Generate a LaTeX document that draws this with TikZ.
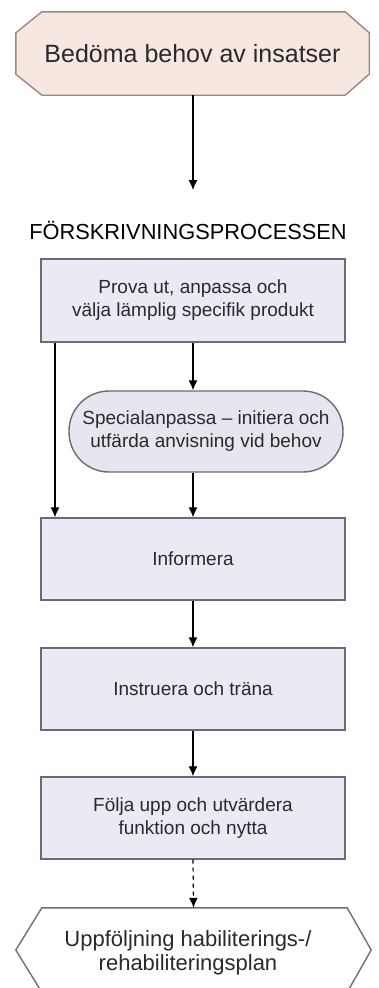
\documentclass[tikz,border=0pt]{standalone}
\usepackage{fontspec}
\setmainfont{Liberation Sans}
\usetikzlibrary{arrows.meta,calc}
\definecolor{boxfill}{HTML}{ECE8F4}
\definecolor{boxline}{HTML}{6E6878}
\definecolor{stadfill}{HTML}{E8E5EE}
\definecolor{octfill}{HTML}{F7E7E1}
\definecolor{octline}{HTML}{9C8682}
\definecolor{hexline}{HTML}{707070}
\definecolor{txt}{HTML}{2A2A2A}
\tikzset{
  stepbox/.style={draw=boxline, fill=boxfill, line width=1.4pt, minimum width=304pt,
    align=center, text=txt, font=\fontsize{19}{23}\selectfont, inner sep=0pt},
  stadium/.style={draw=boxline, fill=stadfill, line width=1.4pt, rounded corners=40pt,
    minimum width=274pt, minimum height=81pt, align=center, text=txt,
    font=\fontsize{19}{23}\selectfont, inner sep=0pt},
  ghost/.style={draw=none, inner sep=0pt, align=center, text=txt},
  flow/.style={line width=1.2pt, -{Latex[length=10pt,width=9pt]}},
}
\begin{document}
\begin{tikzpicture}[x=1pt,y=1pt]
\useasboundingbox (0,0) rectangle (379,-988);
% top octagon
\node[ghost, minimum width=353pt, minimum height=83pt] (assess) at (192.5,-53.5) {};
\path[draw=octline, fill=octfill, line width=1.4pt]
  ($(assess.north west)+(26,0)$) -- ($(assess.north east)+(-24,0)$) --
  ($(assess.north east)+(0,-21)$) -- ($(assess.south east)+(0,21)$) --
  ($(assess.south east)+(-24,0)$) -- ($(assess.south west)+(26,0)$) --
  ($(assess.south west)+(0,21)$) -- ($(assess.north west)+(0,-21)$) -- cycle;
\node[ghost, font=\fontsize{25}{30}\selectfont] (assesstext) at (assess.center)
  {Bedöma behov av insatser};
% title
\node[ghost, font=\fontsize{21.8}{26}\selectfont, text=black] (title) at (188,-230)
  {FÖRSKRIVNINGSPROCESSEN};
% boxes
\node[stepbox, minimum height=83pt] (prova) at (193,-300.5)
  {Prova ut, anpassa och\\välja lämplig specifik produkt};
\node[stadium] (special) at (206,-431.5)
  {Specialanpassa – initiera och\\utfärda anvisning vid behov};
\node[stepbox, minimum height=82pt] (inform) at (193,-559) {Informera};
\node[stepbox, minimum height=82pt] (instr) at (193,-689) {Instruera och träna};
\node[stepbox, minimum height=82pt] (folja) at (193,-818)
  {Följa upp och utvärdera\\funktion och nytta};
% bottom hexagon
\node[ghost, minimum width=355pt, minimum height=84pt] (plan) at (193.5,-950) {};
\path[draw=hexline, fill=white, line width=1.4pt]
  ($(plan.north west)+(26,0)$) -- ($(plan.north east)+(-24,0)$) --
  (plan.east) -- ($(plan.south east)+(-24,0)$) --
  ($(plan.south west)+(26,0)$) -- (plan.west) -- cycle;
\node[ghost, font=\fontsize{22}{24}\selectfont] (plantext) at (188,-953)
  {Uppföljning habiliterings-/\\rehabiliteringsplan};
% connectors
\coordinate (c1) at (193,-95);
\coordinate (c2) at (193,-190);
\draw[flow] (assess.south -| c1) -- (c2);
\draw[flow] (prova.south) -- (prova.south |- special.north);
\draw[flow] (special.south -| prova.south) -- (inform.north);
\coordinate (lx) at (55,0);
\draw[flow] (prova.south -| lx) -- (inform.north -| lx);
\draw[flow] (inform.south) -- (instr.north);
\draw[flow] (instr.south) -- (folja.north);
\draw[flow, dash pattern=on 4pt off 4pt] (folja.south) -- (plan.north);
\end{tikzpicture}
\end{document}
